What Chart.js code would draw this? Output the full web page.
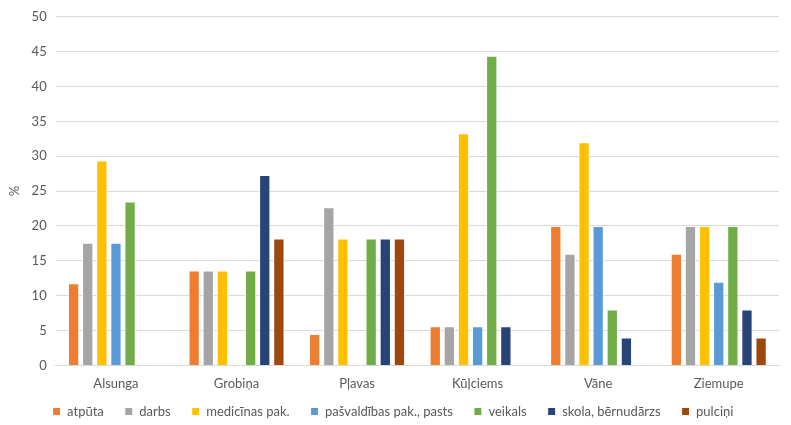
<!DOCTYPE html>
<html>
<head>
<meta charset="utf-8">
<script src="https://cdn.jsdelivr.net/npm/chart.js@4"></script>
<style>
  html, body { margin: 0; padding: 0; background: #fff; }
  #wrap { width: 791px; height: 425px; }
</style>
</head>
<body>
<div id="wrap"><canvas id="chart"></canvas></div>
<script>
const places = ["Alsunga", "Grobiņa", "Pļavas", "Kūļciems", "Vāne", "Ziemupe"];
const atputa = [11.8, 13.6, 4.5, 5.6, 20, 16];
const darbs = [17.6, 13.6, 22.7, 5.6, 16, 20];
const medicinas = [29.4, 13.6, 18.2, 33.3, 32, 20];
const pasvaldibas = [17.6, 0, 0, 5.6, 20, 12];
const veikals = [23.5, 13.6, 18.2, 44.4, 8, 20];
const skola = [0, 27.3, 18.2, 5.6, 4, 8];
const pulcini = [0, 18.2, 18.2, 0, 0, 4];
const yTicks = [0, 5, 10, 15, 20, 25, 30, 35, 40, 45, 50];

Chart.defaults.font.family = "Lato, 'Liberation Sans', sans-serif";
Chart.defaults.font.size = 13;
Chart.defaults.color = "#595959";

function set(label, data, color) {
  return {
    label: label,
    data: data,
    backgroundColor: color,
    borderColor: "#ffffff",
    borderWidth: 1,
    categoryPercentage: 0.82,
    barPercentage: 0.8
  };
}

// make the legend box shorter and draw it a bit higher, like the original
const tightLegend = {
  id: "tightLegend",
  beforeInit(chart) {
    const legend = chart.legend;
    const fit = legend.fit;
    legend.fit = function () {
      fit.call(this);
      this.height -= 14;
    };
    const draw = legend.draw;
    legend.draw = function () {
      this.top -= 11;
      draw.apply(this, arguments);
      this.top += 11;
    };
  }
};

const ctx = document.getElementById("chart").getContext("2d");
new Chart(ctx, {
  type: "bar",
  data: {
    labels: places,
    datasets: [
      set("atpūta", atputa, "#ED7D31"),
      set("darbs", darbs, "#A5A5A5"),
      set("medicīnas pak.", medicinas, "#FFC000"),
      set("pašvaldības pak., pasts", pasvaldibas, "#5B9BD5"),
      set("veikals", veikals, "#70AD47"),
      set("skola, bērnudārzs", skola, "#264478"),
      set("pulciņi", pulcini, "#9E480E")
    ]
  },
  options: {
    responsive: true,
    maintainAspectRatio: false,
    animation: false,
    layout: { padding: { left: 7, right: 12, top: 14, bottom: 0 } },
    plugins: {
      legend: {
        position: "bottom",
        labels: {
          boxWidth: 8,
          boxHeight: 8,
          padding: 21,
          font: { size: 13 }
        }
      },
      tooltip: { enabled: false }
    },
    scales: {
      x: {
        grid: { display: false },
        border: { color: "#d9d9d9" },
        ticks: { font: { size: 13 } }
      },
      y: {
        min: 0,
        max: 50,
        afterBuildTicks: axis => { axis.ticks = yTicks.map(v => ({ value: v })); },
        grid: { color: "#d9d9d9", lineWidth: 1, drawTicks: false },
        border: { display: false },
        ticks: { padding: 9, font: { size: 13 } },
        title: { display: true, text: "%", font: { size: 13 }, padding: 0 }
      }
    }
  },
  plugins: [tightLegend]
});
</script>
</body>
</html>
